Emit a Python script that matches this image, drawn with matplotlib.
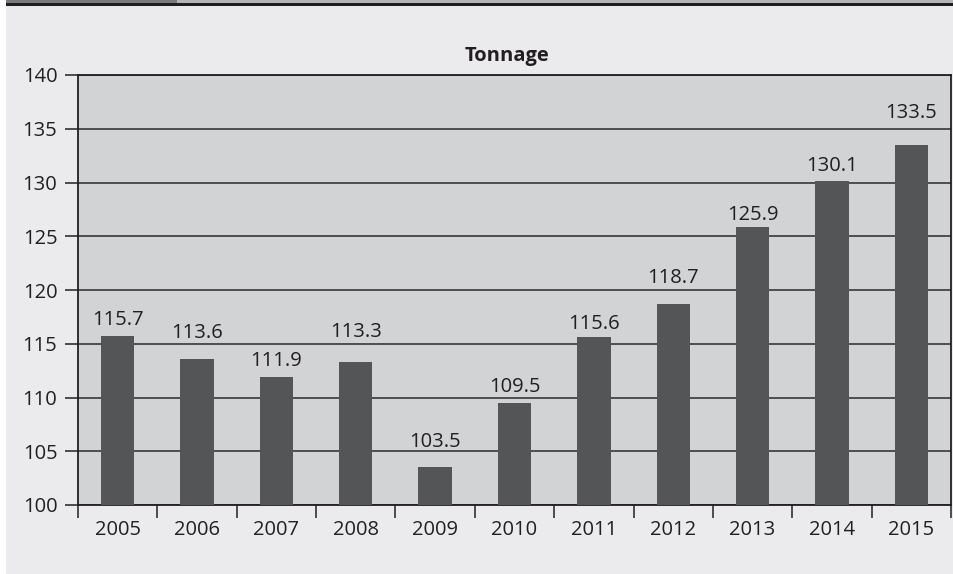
import matplotlib
matplotlib.use("Agg")
import matplotlib.pyplot as plt
from matplotlib.patches import Rectangle
import numpy as np

years = ["2005", "2006", "2007", "2008", "2009", "2010",
         "2011", "2012", "2013", "2014", "2015"]
tonnage = [115.7, 113.6, 111.9, 113.3, 103.5, 109.5,
           115.6, 118.7, 125.9, 130.1, 133.5]
y_ticks = [100, 105, 110, 115, 120, 125, 130, 135, 140]

# vertical gap (points) between each bar top and its value label
label_gap_pt = [8.4, 15, 8, 18, 14.5, 7.5, 6.3, 15, 4.5, 7.6, 19.5]

plt.rcParams['font.family'] = ['Open Sans', 'DejaVu Sans']
INK = "#231f20"
FS = 14.5

W, H = 954, 574
fig = plt.figure(figsize=(W / 100, H / 100), dpi=100, facecolor="#ebebed")

# header strip: white margin, tab, rule
fig.patches.append(Rectangle((0, 0), 6 / W, 1, transform=fig.transFigure,
                             facecolor="white", edgecolor="none", zorder=0))
fig.patches.append(Rectangle((6 / W, 1 - 3 / H), 171 / W, 3 / H, transform=fig.transFigure,
                             facecolor="#7a7b7d", edgecolor="none", zorder=1))
fig.patches.append(Rectangle((177 / W, 1 - 3 / H), 1, 3 / H, transform=fig.transFigure,
                             facecolor="#b4b5b7", edgecolor="none", zorder=1))
fig.patches.append(Rectangle((6 / W, 1 - 6 / H), 1, 3 / H, transform=fig.transFigure,
                             facecolor="#1e1e1e", edgecolor="none", zorder=1))

ax = fig.add_axes([78 / W, 1 - 505 / H, (951 - 78) / W, (505 - 75) / H])
ax.set_facecolor("#d2d3d5")

x = np.arange(len(years))
ax.bar(x, [v - 100 for v in tonnage], bottom=100, width=0.42,
       color="#545557", zorder=3)

for xi, v, gap in zip(x, tonnage, label_gap_pt):
    ax.annotate(f"{v:.1f}", xy=(xi, v), xytext=(0, gap),
                textcoords="offset points", ha="center", va="baseline",
                fontsize=FS, color=INK, zorder=4)

ax.set_xlim(-0.5, len(years) - 0.5)
ax.set_ylim(100, 140)
ax.set_yticks(y_ticks)
ax.set_yticklabels([str(t) for t in y_ticks])
ax.yaxis.grid(True, color="#2a2a2a", linewidth=1.1, zorder=1)
ax.set_axisbelow(True)

ax.set_xticks(x)
ax.set_xticklabels(years)
ax.set_xticks(np.arange(-0.5, len(years)), minor=True)
ax.tick_params(axis="x", which="major", length=0, pad=11, labelsize=FS,
               colors=INK)
ax.tick_params(axis="x", which="minor", length=9, width=1.1, color=INK,
               direction="out")
ax.tick_params(axis="y", length=9.4, width=1.1, color=INK, pad=5.5,
               labelsize=FS, labelcolor=INK)

for side in ["left", "bottom", "top", "right"]:
    ax.spines[side].set_color(INK)
    ax.spines[side].set_linewidth(1.3)

fig.text(507 / W, 1 - 61 / H, "Tonnage", ha="center", va="baseline",
         fontsize=14.5, fontweight="bold", color=INK)

fig.savefig("out.png", dpi=100, facecolor=fig.get_facecolor())
